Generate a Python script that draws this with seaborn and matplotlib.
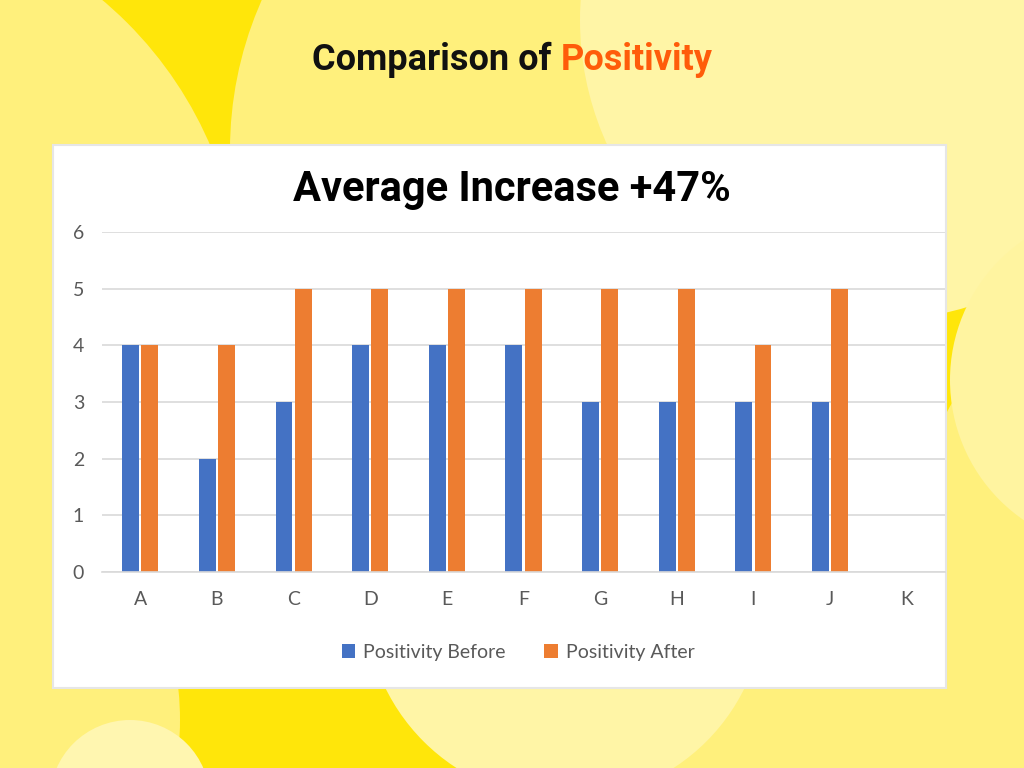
import matplotlib
matplotlib.use("Agg")
import matplotlib.pyplot as plt
from matplotlib.patches import Circle, Rectangle
import seaborn as sns
import pandas as pd

categories = ["A", "B", "C", "D", "E", "F", "G", "H", "I", "J", "K"]
before = [4, 2, 3, 4, 4, 4, 3, 3, 3, 3, None]
after = [4, 4, 5, 5, 5, 5, 5, 5, 4, 5, None]
series_names = ["Positivity Before", "Positivity After"]
title_main = "Comparison of "
title_accent = "Positivity"
subtitle = "Average Increase +47%"

rows = []
for c, b, a in zip(categories, before, after):
    rows.append({"cat": c, "series": series_names[0], "value": b})
    rows.append({"cat": c, "series": series_names[1], "value": a})
df = pd.DataFrame(rows)

sns.set_theme(style="white")
plt.rcParams['font.family'] = ['Lato', 'DejaVu Sans']

W, H = 1024, 768
fig = plt.figure(figsize=(W / 100, H / 100), dpi=100)
fig.patch.set_facecolor("#FFE60A")

# background decorative circles (in a full-figure axes, pixel coords)
bg = fig.add_axes([0, 0, 1, 1], zorder=0)
bg.set_xlim(0, W)
bg.set_ylim(H, 0)
bg.axis("off")
circles = [
    ((-150, 300), 392, "#FFF07C"),
    ((600, 150), 370, "#FFF07C"),
    ((880, 20), 300, "#FFF5A6"),
    ((1150, 520), 230, "#FFF07C"),
    ((1120, 380), 170, "#FFF4A0"),
    ((-120, 720), 300, "#FFF07C"),
    ((900, 800), 300, "#FFF07C"),
    ((565, 600), 200, "#FFF5A6"),
    ((130, 800), 80, "#FFF6B0"),
]
for (cx, cy), r, col in circles:
    bg.add_patch(Circle((cx, cy), r, color=col, lw=0))

# white panel
bg.add_patch(Rectangle((53, 145), 893, 543, facecolor="white",
                       edgecolor="#E6E6E6", lw=1.5, zorder=2))

# titles
tfam = ["Roboto", "DejaVu Sans"]
t1 = fig.text(0.5, 1 - 60 / H, title_main + title_accent, fontsize=26,
              fontweight="bold", family=tfam, ha="center", va="center", alpha=0)
fig.canvas.draw()
bb = t1.get_window_extent()
ta = fig.text(bb.x0 / W, 1 - 60 / H, title_main, fontsize=26, fontweight="bold",
              family=tfam, color="#111111", ha="left", va="center")
fig.canvas.draw()
bb2 = ta.get_window_extent()
fig.text(bb2.x1 / W, 1 - 60 / H, title_accent, fontsize=26, fontweight="bold",
         family=tfam, color="#FF5C0A", ha="left", va="center")

fig.text(0.5, 1 - 189 / H, subtitle, fontsize=30, fontweight="bold",
         family=tfam, color="black", ha="center", va="center")

ax = fig.add_axes([102 / W, 1 - 572 / H, 843 / W, 340 / H], zorder=3)
ax.set_facecolor("none")
sns.barplot(data=df, x="cat", y="value", hue="series", order=categories,
            hue_order=series_names, palette=["#4472C4", "#ED7D31"],
            width=0.5, gap=0.12, ax=ax, saturation=1, legend=True,
            linewidth=0, edgecolor="none")
ax.set_xlim(-0.5, len(categories) - 0.5)
ax.set_ylim(0, 6)
ax.set_yticks(range(0, 7))
ax.yaxis.grid(True, color="#D9D9D9", lw=1.2)
ax.set_axisbelow(True)
for s in ["top", "right", "left"]:
    ax.spines[s].set_visible(False)
ax.spines["bottom"].set_color("#D9D9D9")
ax.spines["bottom"].set_linewidth(1.2)
ax.set_xlabel("")
ax.set_ylabel("")
ax.tick_params(axis="both", length=0, labelsize=14, labelcolor="#595959")
ax.tick_params(axis="x", pad=14)
ax.tick_params(axis="y", pad=21)
for lbl in ax.get_yticklabels():
    lbl.set_horizontalalignment("left")
leg = ax.legend(loc="upper center", bbox_to_anchor=(416 / 843, -0.16), ncol=2,
                frameon=False, fontsize=14, handlelength=0.7, handleheight=0.7,
                columnspacing=2.0, handletextpad=0.4)
for t in leg.get_texts():
    t.set_color("#595959")

fig.savefig("out.png", dpi=100, facecolor=fig.get_facecolor())
